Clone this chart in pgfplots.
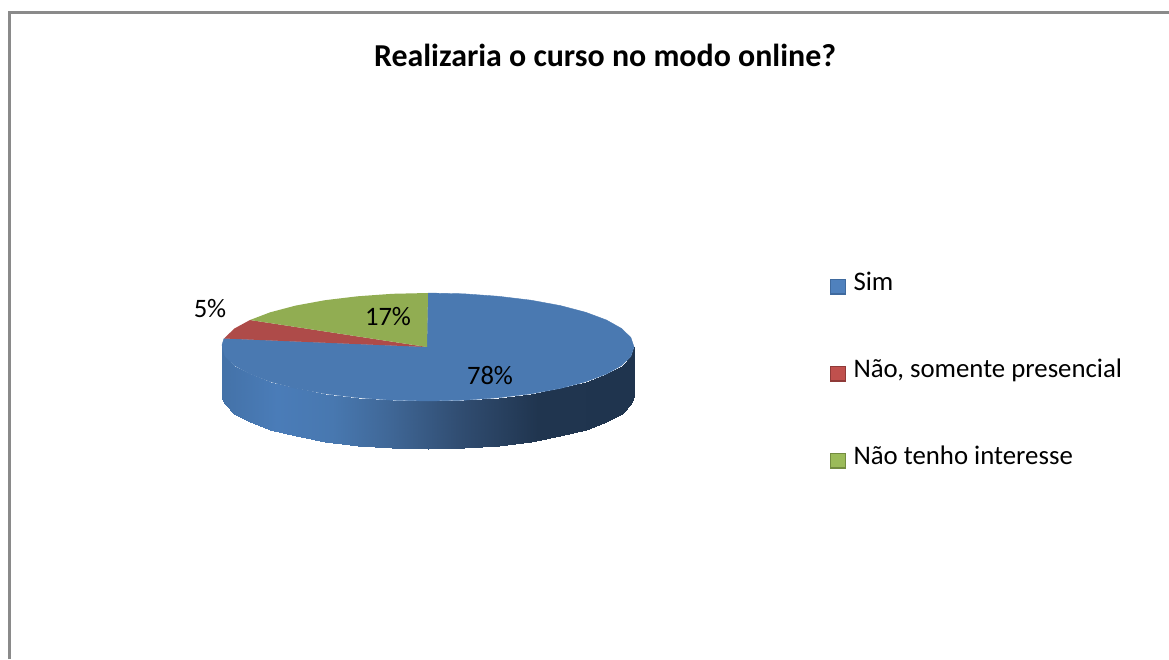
\documentclass[border=0pt]{standalone}
\usepackage{fontspec}
\setmainfont{Carlito}
\usepackage{pgfplots}
\pgfplotsset{compat=1.18}
\definecolor{topblue}{HTML}{4A79B1}
\definecolor{topred}{HTML}{AE4B49}
\definecolor{topgreen}{HTML}{91AD52}
\definecolor{frame}{HTML}{8A8A8A}
\definecolor{lgblue}{HTML}{4F81BD}
\definecolor{lgblued}{HTML}{3F6A9E}
\definecolor{lgred}{HTML}{C0504D}
\definecolor{lgredd}{HTML}{8F3A38}
\definecolor{lggreen}{HTML}{9BBB59}
\definecolor{lggreend}{HTML}{738C40}
\pgfplotsset{
  pielegend/.style n args={2}{legend image code/.code={
    \draw[draw=#2,line width=1.4pt,fill=#1] (0pt,-8.4pt) rectangle (14.6pt,6.2pt);}},
}
\begin{document}
\begin{tikzpicture}
\begin{axis}[
  scale only axis, width=1169pt, height=659pt,
  xmin=0, xmax=1169, ymin=0, ymax=659, y dir=reverse,
  hide axis, clip=true,
  colormap={wall}{rgb255(0)=(68,114,168) rgb255(8)=(74,124,184) rgb255(16)=(72,120,176) rgb255(24)=(64,104,152) rgb255(35)=(48,76,112) rgb255(46)=(32,53,79) rgb255(60)=(31,52,78)},
  legend style={draw=none, fill=none, at={(axis cs:830,273)}, anchor=north west,
    font=\fontsize{26.8}{28}\selectfont, inner sep=0pt, outer sep=0pt, row sep=62pt,
    nodes={inner sep=0pt, anchor=west, text height=17pt, text depth=8pt}},
  legend cell align=left,
]
% page background, which fixes the size of the picture
\addplot[fill=white, draw=none, forget plot] coordinates {(0,0)(1169,0)(1169,659)(0,659)} -- cycle;
% side wall
\addplot[surf, shader=interp, point meta=x, mesh/rows=2, forget plot] table {
222.0 345.0
225.1 356.4
234.4 365.5
249.6 374.0
270.2 381.7
295.6 388.4
325.0 393.8
357.5 397.7
392.2 400.2
428.0 401.0
463.8 400.2
498.5 397.7
531.0 393.8
560.4 388.4
585.8 381.7
606.4 374.0
621.6 365.5
630.9 356.4
634.0 347.0
222.0 399.0
225.1 404.4
234.4 413.5
249.6 422.0
270.2 429.7
295.6 436.4
325.0 441.8
357.5 445.7
392.2 448.2
428.0 449.0
463.8 448.2
498.5 445.7
531.0 441.8
560.4 436.4
585.8 429.7
606.4 422.0
621.6 413.5
630.9 404.4
634.0 396.0
};
% top: Sim 78%
\addplot[fill=topblue, draw=topblue, line width=0.4pt, forget plot] coordinates {
(427,347)(428,293)(463.8,293.8)(498.5,296.3)(531,300.2)(560.4,305.6)(585.8,312.3)(606.4,320)(621.6,328.5)(630.9,337.6)(634,347)
(630.9,356.4)(621.6,365.5)(606.4,374)(585.8,381.7)(560.4,388.4)(531,393.8)(498.5,397.7)(463.8,400.2)(428,401)
(392.2,400.2)(357.5,397.7)(325,393.8)(295.6,388.4)(270.2,381.7)(249.6,374)(234.4,365.5)(225.1,356.4)(222,345)(224,338.5)
(427,347)} -- cycle;
% top: Nao, somente presencial 5%
\addplot[fill=topred, draw=none, forget plot] coordinates {
(427,347)(224,338.5)(234.4,328.5)(250,320)(427,347)} -- cycle;
% top: Nao tenho interesse 17%
\addplot[fill=topgreen, draw=none, forget plot] coordinates {
(427,347)(250,320)(270.2,312.3)(295.6,305.6)(325,300.2)(357.5,296.3)(392.2,293.8)(428,293)(427,347)} -- cycle;
% frame
\addplot[frame, line width=3.2pt, forget plot] coordinates {(9.8,659)(9.8,12.2)(1169,12.2)};
% legend
\addlegendimage{pielegend={lgblue}{lgblued}}
\addlegendentry{\hspace{7.5pt}Sim}
\addlegendimage{pielegend={lgred}{lgredd}}
\addlegendentry{\hspace{7.5pt}Não, somente presencial}
\addlegendimage{pielegend={lggreen}{lggreend}}
\addlegendentry{\hspace{7.5pt}Não tenho interesse}
% labels
\node[font=\fontsize{31.9}{34}\selectfont\bfseries] at (axis cs:605,55.5) {Realizaria o curso no modo online?};
\node[font=\fontsize{26.6}{28}\selectfont] at (axis cs:210,309) {5\%};
\node[font=\fontsize{26.6}{28}\selectfont] at (axis cs:388,317) {17\%};
\node[font=\fontsize{26.6}{28}\selectfont] at (axis cs:490,376) {78\%};
\end{axis}
\end{tikzpicture}
\end{document}
